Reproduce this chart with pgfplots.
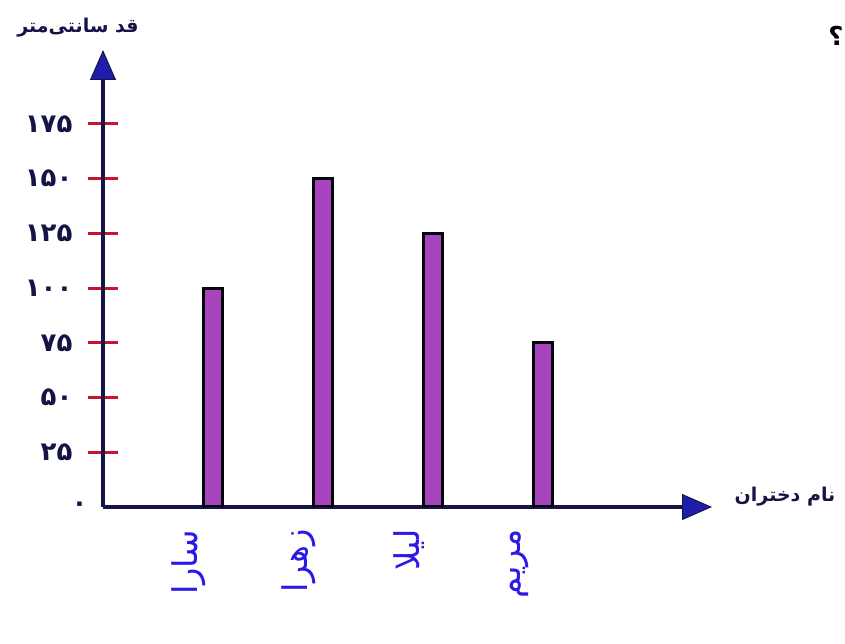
\documentclass[border=0pt]{standalone}
\usepackage{fontspec}
\usepackage{pgfplots}
\pgfplotsset{compat=1.18}
\usetikzlibrary{arrows.meta}
\TeXXeTstate=1
\newfontfamily\fa[Script=Arabic]{DejaVu Sans}
\definecolor{navy}{RGB}{20,20,70}
\definecolor{arrowblue}{RGB}{30,30,170}
\definecolor{tickred}{RGB}{200,20,50}
\definecolor{barpurple}{RGB}{168,68,190}
\definecolor{ink}{RGB}{45,25,230}

\begin{document}
\begin{tikzpicture}[x=1pt,y=1pt]
\begin{axis}[
  at={(103pt,137pt)}, anchor=south west,
  scale only axis, width=609pt, height=457pt,
  xmin=0, xmax=5.536, ymin=0, ymax=208.7,
  axis lines=left,
  axis line style={navy, line width=3.5pt},
  x axis line style={-{Triangle[length=30pt,width=26pt,fill=arrowblue,color=navy,line width=1pt]}},
  y axis line style={-{Triangle[length=30pt,width=26pt,fill=arrowblue,color=navy,line width=1pt]}},
  ytick={25,50,75,100,125,150,175},
  yticklabels={۲۵,۵۰,۷۵,۱۰۰,۱۲۵,۱۵۰,۱۷۵},
  extra y ticks={0}, extra y tick labels={۰},
  extra y tick style={major tick length=0pt},
  tick align=center, major tick length=30pt,
  y tick style={tickred, line width=3pt},
  yticklabel style={font=\fa\bfseries\fontsize{26}{26}\selectfont, text=navy, anchor=east, xshift=-12pt},
  xtick={1,2,3,4},
  x tick style={draw=none},
  xticklabels={\beginR سارا\endR,\beginR زهرا\endR,\beginR لیلا\endR,\beginR مریم\endR},
  xticklabel style={font=\fa\fontsize{34}{34}\selectfont, text=ink, rotate=90, anchor=east, xshift=-4pt, yshift=24pt},
]
\addplot[ybar, bar width=19pt, fill=barpurple, draw=black!85!navy, line width=3pt]
  coordinates {(1,100) (2,150) (3,125) (4,75)};
\end{axis}
\node[font=\fa\bfseries\fontsize{19}{19}\selectfont, text=navy] at (78,616) {\beginR قد سانتی‌متر\endR};
\node[font=\fa\bfseries\fontsize{19}{19}\selectfont, text=navy] at (785,147) {\beginR نام دختران\endR};
\node[font=\fa\bfseries\fontsize{26}{26}\selectfont, text=black] at (836,608) {؟};
\pgfresetboundingbox
\useasboundingbox (0,0) rectangle (845,644);
\end{tikzpicture}
\end{document}
